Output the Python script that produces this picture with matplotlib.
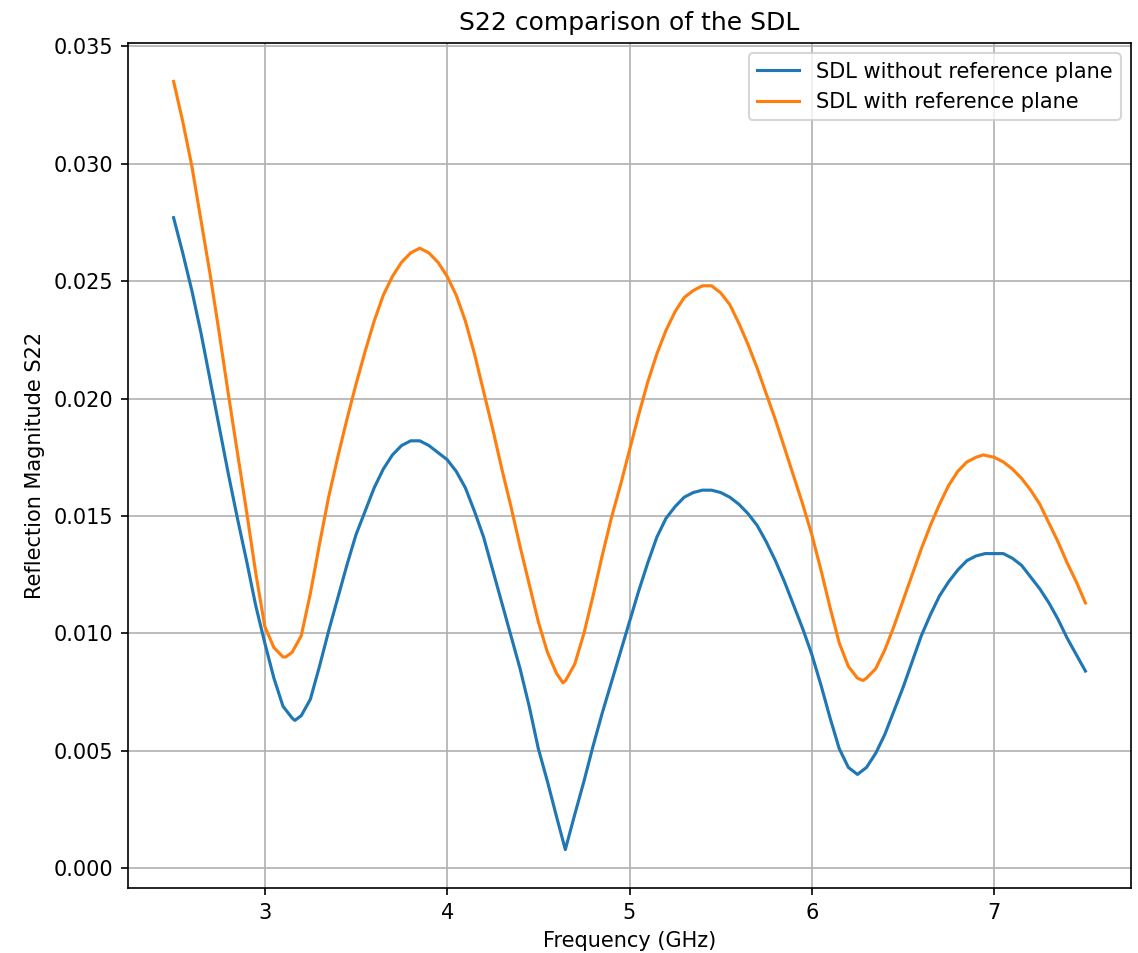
import matplotlib
matplotlib.use("Agg")
import matplotlib.pyplot as plt

freq_blue = [2.5, 2.55, 2.6, 2.65, 2.7, 2.75, 2.8, 2.85, 2.9, 2.95, 3.0, 3.05, 3.1, 3.15, 3.165, 3.2,
             3.25, 3.3, 3.35, 3.4, 3.45, 3.5, 3.55, 3.6, 3.65, 3.7, 3.75, 3.8, 3.85, 3.9, 3.95, 4.0,
             4.05, 4.1, 4.15, 4.2, 4.25, 4.3, 4.35, 4.4, 4.45, 4.5, 4.55, 4.6, 4.648, 4.7, 4.75, 4.8,
             4.85, 4.9, 4.95, 5.0, 5.05, 5.1, 5.15, 5.2, 5.25, 5.3, 5.35, 5.4, 5.45, 5.5, 5.55, 5.6,
             5.65, 5.7, 5.75, 5.8, 5.85, 5.9, 5.95, 6.0, 6.05, 6.1, 6.15, 6.2, 6.25, 6.3, 6.35, 6.4,
             6.45, 6.5, 6.55, 6.6, 6.65, 6.7, 6.75, 6.8, 6.85, 6.9, 6.95, 7.0, 7.05, 7.1, 7.15, 7.2,
             7.25, 7.3, 7.35, 7.4, 7.45, 7.5]
s22_without = [0.0277, 0.0262, 0.0246, 0.0228, 0.0208, 0.0188, 0.0168, 0.0149, 0.0131, 0.0112, 0.0096,
               0.0081, 0.0069, 0.0064, 0.0063, 0.0065,
               0.0072, 0.0086, 0.0101, 0.0115, 0.0129, 0.0142, 0.0152, 0.0162, 0.0170, 0.0176, 0.0180,
               0.0182, 0.0182, 0.0180, 0.0177, 0.0174,
               0.0169, 0.0162, 0.0152, 0.0141, 0.0127, 0.0113, 0.0099, 0.0085, 0.0069, 0.0051, 0.0037,
               0.0022, 0.0008, 0.0023, 0.0037, 0.0052,
               0.0066, 0.0079, 0.0092, 0.0105, 0.0118, 0.0130, 0.0141, 0.0149, 0.0154, 0.0158, 0.0160,
               0.0161, 0.0161, 0.0160, 0.0158, 0.0155,
               0.0151, 0.0146, 0.0139, 0.0131, 0.0122, 0.0112, 0.0102, 0.0091, 0.0078, 0.0064, 0.0051,
               0.0043, 0.0040, 0.0043, 0.0049, 0.0057,
               0.0067, 0.0077, 0.0088, 0.0099, 0.0108, 0.0116, 0.0122, 0.0127, 0.0131, 0.0133, 0.0134,
               0.0134, 0.0134, 0.0132, 0.0129, 0.0124,
               0.0119, 0.0113, 0.0106, 0.0098, 0.0091, 0.0084]

freq_orange = [2.5, 2.55, 2.6, 2.65, 2.7, 2.75, 2.8, 2.85, 2.9, 2.95, 3.0, 3.05, 3.1, 3.115, 3.15, 3.2,
               3.25, 3.3, 3.35, 3.4, 3.45, 3.5, 3.55, 3.6, 3.65, 3.7, 3.75, 3.8, 3.85, 3.9, 3.95, 4.0,
               4.05, 4.1, 4.15, 4.2, 4.25, 4.3, 4.35, 4.4, 4.45, 4.5, 4.55, 4.6, 4.635, 4.65, 4.7, 4.75,
               4.8, 4.85, 4.9, 4.95, 5.0, 5.05, 5.1, 5.15, 5.2, 5.25, 5.3, 5.35, 5.4, 5.45, 5.5, 5.55,
               5.6, 5.65, 5.7, 5.75, 5.8, 5.85, 5.9, 5.95, 6.0, 6.05, 6.1, 6.15, 6.2, 6.25, 6.28, 6.3,
               6.35, 6.4, 6.45, 6.5, 6.55, 6.6, 6.65, 6.7, 6.75, 6.8, 6.85, 6.9, 6.94, 7.0, 7.05, 7.1,
               7.15, 7.2, 7.25, 7.3, 7.35, 7.4, 7.45, 7.5]
s22_with = [0.0335, 0.0318, 0.0299, 0.0276, 0.0253, 0.0228, 0.0202, 0.0177, 0.0152, 0.0126, 0.0103,
            0.0094, 0.0090, 0.0090, 0.0092, 0.0099,
            0.0117, 0.0138, 0.0158, 0.0175, 0.0191, 0.0206, 0.0220, 0.0233, 0.0244, 0.0252, 0.0258,
            0.0262, 0.0264, 0.0262, 0.0258, 0.0252,
            0.0244, 0.0233, 0.0219, 0.0203, 0.0187, 0.0170, 0.0154, 0.0137, 0.0121, 0.0105, 0.0092,
            0.0083, 0.0079, 0.0080, 0.0087, 0.0100,
            0.0116, 0.0133, 0.0149, 0.0163, 0.0178, 0.0193, 0.0207, 0.0219, 0.0229, 0.0237, 0.0243,
            0.0246, 0.0248, 0.0248, 0.0245, 0.0240,
            0.0232, 0.0223, 0.0213, 0.0202, 0.0191, 0.0179, 0.0167, 0.0155, 0.0142, 0.0127, 0.0111,
            0.0096, 0.0086, 0.0081, 0.0080, 0.0081,
            0.0085, 0.0093, 0.0103, 0.0114, 0.0125, 0.0136, 0.0146, 0.0155, 0.0163, 0.0169, 0.0173,
            0.0175, 0.0176, 0.0175, 0.0173, 0.0170,
            0.0166, 0.0161, 0.0155, 0.0147, 0.0139, 0.0130, 0.0122, 0.0113]

labels = ["SDL without reference plane", "SDL with reference plane"]

W, H, DPI = 1138, 953, 150
fig = plt.figure(figsize=(W / DPI, H / DPI), dpi=DPI)
ax = fig.add_axes([128 / W, 1 - 888 / H, (1131 - 128) / W, (888 - 43) / H])
ax.plot(freq_blue, s22_without, color="#1f77b4", label=labels[0])
ax.plot(freq_orange, s22_with, color="#ff7f0e", label=labels[1])
ax.set_title("S22 comparison of the SDL", fontsize=12)
ax.set_xlabel("Frequency (GHz)")
ax.set_ylabel("Reflection Magnitude S22")
ax.grid(True)
ax.legend(loc="upper right")
fig.savefig("out.png", dpi=DPI)
